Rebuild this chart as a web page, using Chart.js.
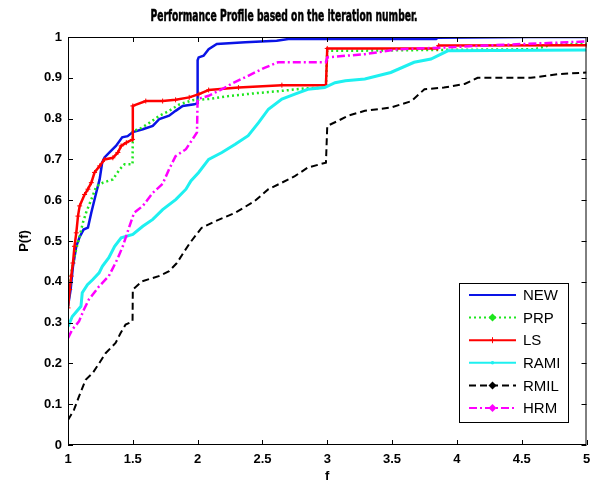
<!DOCTYPE html>
<html>
<head>
<meta charset="utf-8">
<script src="https://cdn.jsdelivr.net/npm/chart.js@4.4.0/dist/chart.umd.min.js"></script>
<style>
  body { margin: 0; background: #fff; }
  #wrap { width: 590px; height: 484px; position: relative; }
</style>
</head>
<body>
<div id="wrap"><canvas id="ppChart"></canvas></div>
<script>
const seriesNames = ["NEW", "PRP", "LS", "RAMI", "RMIL", "HRM"];
const titleText = "Performance Profile based on the iteration number.";

const newF = [1, 1.02, 1.038, 1.064, 1.09, 1.12, 1.154, 1.18, 1.218, 1.244, 1.264, 1.282, 1.32, 1.37, 1.418, 1.46, 1.5, 1.577, 1.654, 1.705, 1.78, 1.83, 1.885, 1.975, 2.0, 2.0, 2.008, 2.046, 2.085, 2.148, 2.367, 2.61, 2.7, 3.84, 3.85, 4.55, 5];
const newP = [0.34, 0.38, 0.437, 0.487, 0.51, 0.528, 0.533, 0.57, 0.619, 0.651, 0.693, 0.705, 0.717, 0.733, 0.754, 0.757, 0.767, 0.774, 0.782, 0.799, 0.807, 0.819, 0.831, 0.835, 0.838, 0.943, 0.95, 0.954, 0.97, 0.983, 0.987, 0.991, 0.995, 0.995, 0.998, 1.0, 1.0];

const prpF = [1, 1.012, 1.025, 1.05, 1.09, 1.115, 1.14, 1.19, 1.218, 1.27, 1.346, 1.4, 1.436, 1.498, 1.5, 1.55, 1.63, 1.705, 1.78, 1.86, 1.96, 2.085, 2.26, 2.44, 2.65, 2.83, 2.99, 3.0, 3.14, 3.72, 4.6, 4.75, 5];
const prpP = [0.34, 0.38, 0.422, 0.463, 0.512, 0.545, 0.57, 0.61, 0.634, 0.643, 0.651, 0.676, 0.688, 0.688, 0.77, 0.774, 0.79, 0.807, 0.819, 0.835, 0.845, 0.848, 0.856, 0.862, 0.868, 0.874, 0.876, 0.966, 0.966, 0.968, 0.97, 0.983, 0.983];

const lsF = [1, 1.013, 1.025, 1.038, 1.05, 1.064, 1.077, 1.09, 1.128, 1.154, 1.18, 1.205, 1.244, 1.282, 1.346, 1.385, 1.41, 1.45, 1.498, 1.5, 1.6, 1.73, 1.83, 1.935, 2.01, 2.085, 2.315, 2.65, 2.99, 3.0, 3.85, 3.86, 5];
const lsP = [0.336, 0.381, 0.414, 0.446, 0.487, 0.52, 0.561, 0.586, 0.614, 0.627, 0.643, 0.668, 0.684, 0.7, 0.704, 0.717, 0.733, 0.741, 0.749, 0.831, 0.843, 0.843, 0.846, 0.852, 0.86, 0.87, 0.876, 0.882, 0.882, 0.972, 0.972, 0.979, 0.98];

const ramiF = [1, 1.033, 1.1, 1.11, 1.15, 1.19, 1.24, 1.265, 1.315, 1.36, 1.41, 1.5, 1.577, 1.654, 1.73, 1.833, 1.91, 1.948, 2.008, 2.085, 2.187, 2.29, 2.39, 2.47, 2.546, 2.65, 2.75, 2.85, 2.98, 3.06, 3.14, 3.29, 3.49, 3.67, 3.8, 3.93, 5];
const ramiP = [0.29, 0.315, 0.34, 0.373, 0.393, 0.405, 0.422, 0.438, 0.459, 0.487, 0.508, 0.516, 0.536, 0.553, 0.577, 0.602, 0.627, 0.647, 0.668, 0.7, 0.717, 0.737, 0.758, 0.79, 0.823, 0.848, 0.86, 0.872, 0.876, 0.888, 0.893, 0.897, 0.913, 0.938, 0.946, 0.966, 0.968];

const rmilF = [1, 1.046, 1.085, 1.136, 1.19, 1.24, 1.29, 1.367, 1.405, 1.444, 1.498, 1.5, 1.57, 1.7, 1.78, 1.84, 1.89, 1.94, 2.03, 2.14, 2.29, 2.44, 2.546, 2.65, 2.75, 2.85, 2.99, 3.0, 3.08, 3.16, 3.29, 3.49, 3.65, 3.75, 3.9, 4.06, 4.16, 4.57, 4.78, 5];
const rmilP = [0.061, 0.086, 0.119, 0.16, 0.176, 0.2, 0.225, 0.25, 0.274, 0.295, 0.303, 0.381, 0.401, 0.414, 0.426, 0.446, 0.471, 0.495, 0.532, 0.549, 0.569, 0.598, 0.627, 0.643, 0.659, 0.68, 0.692, 0.782, 0.794, 0.807, 0.819, 0.827, 0.843, 0.872, 0.876, 0.885, 0.9, 0.9, 0.909, 0.913];

const hrmF = [1, 1.033, 1.085, 1.123, 1.16, 1.24, 1.315, 1.38, 1.423, 1.474, 1.51, 1.577, 1.654, 1.73, 1.78, 1.83, 1.91, 1.96, 1.995, 2.0, 2.085, 2.187, 2.26, 2.39, 2.52, 2.62, 2.99, 3.0, 3.29, 3.55, 3.88, 4.21, 5];
const hrmP = [0.262, 0.283, 0.303, 0.332, 0.356, 0.389, 0.414, 0.455, 0.487, 0.536, 0.569, 0.586, 0.618, 0.64, 0.676, 0.708, 0.725, 0.749, 0.766, 0.848, 0.856, 0.872, 0.885, 0.905, 0.925, 0.938, 0.938, 0.95, 0.958, 0.97, 0.974, 0.979, 0.989];

const xTicks = [1, 1.5, 2, 2.5, 3, 3.5, 4, 4.5, 5];
const yTicks = [0, 0.1, 0.2, 0.3, 0.4, 0.5, 0.6, 0.7, 0.8, 0.9, 1];

function pts(xs, ys) {
  return xs.map((x, i) => ({ x: x, y: ys[i] }));
}

const tickFont = { family: "'Liberation Sans', Arial, sans-serif", size: 13, weight: "bold" };

// MATLAB style box with inward ticks on all four sides
const boxPlugin = {
  id: "box",
  afterDatasetsDraw(chart) {
    const { ctx, chartArea: a, scales } = chart;
    ctx.save();
    ctx.strokeStyle = "#000";
    ctx.lineWidth = 1;
    ctx.strokeRect(a.left + 0.5, a.top + 0.5, a.right - a.left - 1, a.bottom - a.top - 1);
    ctx.beginPath();
    scales.x.ticks.forEach((t) => {
      const px = Math.round(scales.x.getPixelForValue(t.value)) + 0.5;
      ctx.moveTo(px, a.bottom); ctx.lineTo(px, a.bottom - 5);
      ctx.moveTo(px, a.top); ctx.lineTo(px, a.top + 5);
    });
    scales.y.ticks.forEach((t) => {
      const py = Math.round(scales.y.getPixelForValue(t.value)) + 0.5;
      ctx.moveTo(a.left, py); ctx.lineTo(a.left + 5, py);
      ctx.moveTo(a.right, py); ctx.lineTo(a.right - 5, py);
    });
    ctx.stroke();

    // title, condensed to the width it has in the figure
    ctx.font = "bold 15px 'Liberation Sans Narrow', 'DejaVu Sans Condensed', sans-serif";
    ctx.fillStyle = "#000";
    ctx.strokeStyle = "#000";
    ctx.lineWidth = 0.5;
    ctx.textBaseline = "middle";
    ctx.textAlign = "center";
    const w = ctx.measureText(titleText).width;
    ctx.translate(284, 17);
    ctx.scale(267 / w, 1);
    ctx.fillText(titleText, 0, 0);
    ctx.strokeText(titleText, 0, 0);
    ctx.restore();
  },
};

function drawMarker(ctx, style, x, y, color) {
  ctx.save();
  ctx.setLineDash([]);
  ctx.fillStyle = color;
  ctx.strokeStyle = color;
  ctx.lineWidth = 1;
  if (style === "diamond") {
    ctx.beginPath();
    ctx.moveTo(x, y - 4); ctx.lineTo(x + 4, y); ctx.lineTo(x, y + 4); ctx.lineTo(x - 4, y);
    ctx.closePath(); ctx.fill();
  } else if (style === "plus") {
    ctx.beginPath();
    ctx.moveTo(x - 3, y); ctx.lineTo(x + 3, y);
    ctx.moveTo(x, y - 3); ctx.lineTo(x, y + 3);
    ctx.stroke();
  } else if (style === "dot") {
    ctx.beginPath(); ctx.arc(x, y, 1.8, 0, Math.PI * 2); ctx.fill();
  }
  ctx.restore();
}

const legendMarks = ["none", "diamond", "plus", "dot", "diamond", "diamond"];

const legendPlugin = {
  id: "boxLegend",
  afterDraw(chart) {
    const { ctx } = chart;
    const bx = 459, by = 283, bw = 109, bh = 139;
    ctx.save();
    ctx.fillStyle = "#fff";
    ctx.fillRect(bx, by, bw, bh);
    ctx.strokeStyle = "#000";
    ctx.lineWidth = 1;
    ctx.strokeRect(bx + 0.5, by + 0.5, bw, bh);
    ctx.font = "15px 'Liberation Sans', Arial, sans-serif";
    ctx.textBaseline = "middle";
    chart.data.datasets.forEach((ds, i) => {
      const y = 295 + i * 22.6;
      ctx.strokeStyle = ds.borderColor;
      ctx.lineWidth = 2;
      ctx.setLineDash(ds.borderDash || []);
      ctx.beginPath();
      ctx.moveTo(469, y); ctx.lineTo(516, y);
      ctx.stroke();
      drawMarker(ctx, legendMarks[i], 492.5, y, ds.borderColor);
      ctx.setLineDash([]);
      ctx.fillStyle = "#000";
      ctx.fillText(ds.label, 523, y + 1);
    });
    ctx.restore();
  },
};

const ctx = document.getElementById("ppChart").getContext("2d");

const chart = new Chart(ctx, {
  type: "line",
  data: {
    datasets: [
      { label: seriesNames[0], data: pts(newF, newP), borderColor: "#0a14e6", borderWidth: 2.5, order: 6 },
      { label: seriesNames[1], data: pts(prpF, prpP), borderColor: "#1ee61e", borderWidth: 2.5, borderDash: [2, 3], order: 5 },
      { label: seriesNames[2], data: pts(lsF, lsP), borderColor: "#ff0000", borderWidth: 2.5, order: 4,
        pointStyle: "cross", pointRadius: 2.5, pointBorderWidth: 1 },
      { label: seriesNames[3], data: pts(ramiF, ramiP), borderColor: "#1ef0f0", borderWidth: 3, order: 3 },
      { label: seriesNames[4], data: pts(rmilF, rmilP), borderColor: "#000000", borderWidth: 2, borderDash: [7, 4], order: 2 },
      { label: seriesNames[5], data: pts(hrmF, hrmP), borderColor: "#ff00ff", borderWidth: 2.5, borderDash: [8, 3, 2, 3], order: 1 },
    ],
  },
  options: {
    responsive: true,
    maintainAspectRatio: false,
    animation: false,
    layout: { padding: { top: 37, right: 2, left: 0, bottom: 0 } },
    elements: {
      line: { tension: 0, fill: false },
      point: { radius: 0, hoverRadius: 0 },
    },
    scales: {
      x: {
        type: "linear",
        min: 1,
        max: 5,
        afterBuildTicks: (s) => { s.ticks = xTicks.map((v) => ({ value: v })); },
        afterFit: (s) => { s.height = 39; s.paddingLeft = 0; s.paddingRight = 0; },
        grid: { display: false, drawTicks: false },
        border: { display: false },
        ticks: {
          padding: 7,
          color: "#000",
          font: tickFont,
          maxRotation: 0,
          autoSkip: false,
          callback: (v) => String(Number(v.toFixed(1))),
        },
        title: { display: true, text: "f", color: "#000", font: tickFont, padding: { top: 0, bottom: 0 } },
      },
      y: {
        min: 0,
        max: 1,
        afterBuildTicks: (s) => { s.ticks = yTicks.map((v) => ({ value: v })); },
        afterFit: (s) => { s.width = 68; s.paddingTop = 0; s.paddingBottom = 0; },
        grid: { display: false, drawTicks: false },
        border: { display: false },
        ticks: {
          padding: 6,
          color: "#000",
          font: tickFont,
          autoSkip: false,
          callback: (v) => String(Number(v.toFixed(1))),
        },
        title: { display: true, text: "P(f)", color: "#000", font: tickFont, padding: { top: 17, bottom: 0 } },
      },
    },
    plugins: {
      legend: { display: false },
      title: { display: false },
      tooltip: { enabled: false },
    },
  },
  plugins: [boxPlugin, legendPlugin],
});
</script>
</body>
</html>
